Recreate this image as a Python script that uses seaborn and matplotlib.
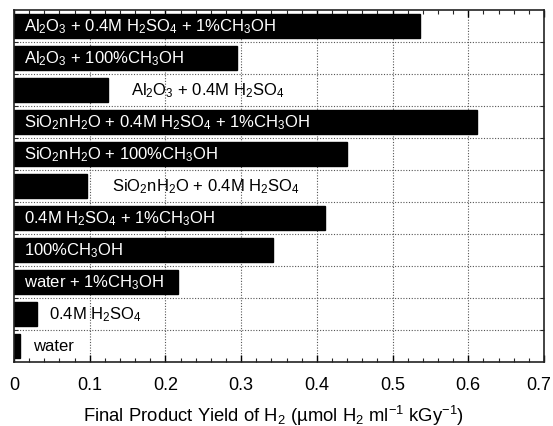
import matplotlib
matplotlib.use("Agg")
import matplotlib.pyplot as plt
import matplotlib.transforms as mtransforms
from matplotlib.ticker import FixedLocator
import seaborn as sns
import pandas as pd
import numpy as np

# H2 yields for each irradiated system (top to bottom)
systems = [
    r"Al$_2$O$_3$ + 0.4M H$_2$SO$_4$ + 1%CH$_3$OH",
    r"Al$_2$O$_3$ + 100%CH$_3$OH",
    r"Al$_2$O$_3$ + 0.4M H$_2$SO$_4$",
    r"SiO$_2$nH$_2$O + 0.4M H$_2$SO$_4$ + 1%CH$_3$OH",
    r"SiO$_2$nH$_2$O + 100%CH$_3$OH",
    r"SiO$_2$nH$_2$O + 0.4M H$_2$SO$_4$",
    r"0.4M H$_2$SO$_4$ + 1%CH$_3$OH",
    r"100%CH$_3$OH",
    r"water + 1%CH$_3$OH",
    r"0.4M H$_2$SO$_4$",
    r"water",
]
yields = [0.536, 0.295, 0.124, 0.611, 0.440, 0.096, 0.411, 0.342, 0.216, 0.030, 0.008]
# labels drawn inside the bar (white) or beside it (black)
inside = [True, True, False, True, True, False, True, True, True, False, False]
outside_offset_pt = [0, 0, 17, 0, 0, 18, 0, 0, 0, 9, 9]

x_ticks = [0.0, 0.1, 0.2, 0.3, 0.4, 0.5, 0.6, 0.7]
x_tick_labels = ["0", "0.1", "0.2", "0.3", "0.4", "0.5", "0.6", "0.7"]

sns.set_theme(style="white")
plt.rcParams["font.family"] = ["Liberation Sans", "DejaVu Sans"]
plt.rcParams["mathtext.fontset"] = "custom"
plt.rcParams["mathtext.rm"] = "Liberation Sans"
plt.rcParams["mathtext.it"] = "Liberation Sans"
plt.rcParams["mathtext.default"] = "regular"

df = pd.DataFrame({"system": systems, "yield": yields})

fig = plt.figure(figsize=(5.53, 4.27), dpi=100)
ax = fig.add_axes([14 / 553, 1 - 363 / 427, 530 / 553, 352 / 427])

sns.barplot(data=df, y="system", x="yield", order=systems, color="black",
            saturation=1, width=0.78, orient="h", ax=ax, edgecolor="black")

ax.set_xlim(0, 0.7)
ax.set_ylim(len(systems) - 0.5, -0.5)

for i, (name, val) in enumerate(zip(systems, yields)):
    if inside[i]:
        ax.annotate(name, xy=(0, i), xytext=(7, 0), textcoords="offset points",
                    color="white", fontsize=12, va="center", ha="left")
    else:
        ax.annotate(name, xy=(val, i), xytext=(outside_offset_pt[i], 0),
                    textcoords="offset points", color="black", fontsize=12,
                    va="center", ha="left")

# gridlines: dotted verticals at major ticks, dotted rules between bars
ax.set_xticks(x_ticks)
ax.set_xticklabels(x_tick_labels)
ax.xaxis.set_minor_locator(FixedLocator(np.arange(0.02, 0.7, 0.02)))
ax.yaxis.set_major_locator(FixedLocator([]))
ax.yaxis.set_minor_locator(FixedLocator(np.arange(0.5, len(systems) - 0.5, 1.0)))
ax.grid(False)
for x in x_ticks[1:-1]:
    ax.axvline(x, color="#555555", lw=0.8, ls=(0, (1, 1.5)), zorder=0)
for y in np.arange(0.5, len(systems) - 0.5, 1.0):
    ax.axhline(y, color="#555555", lw=0.8, ls=(0, (1, 1.5)), zorder=0)

ax.tick_params(axis="x", which="major", direction="in", length=5, width=1,
               top=True, bottom=True, labelsize=13, pad=10, colors="black")
ax.tick_params(axis="x", which="minor", direction="in", length=3, width=0.8,
               top=True, bottom=True)
ax.tick_params(axis="y", which="minor", direction="in", length=3, width=0.8,
               left=True, right=True)
ax.tick_params(axis="y", which="major", left=False, labelleft=False)

# keep the last tick label inside the canvas
last = ax.get_xticklabels()[-1]
last.set_transform(last.get_transform() +
                   mtransforms.ScaledTranslation(-4 / 72, 0, fig.dpi_scale_trans))

for s in ax.spines.values():
    s.set_color("#222222")
    s.set_linewidth(1.2)

ax.set_ylabel("")
ax.set_xlabel("Final Product Yield of H$_2$ (µmol H$_2$ ml$^{-1}$ kGy$^{-1}$)",
              fontsize=13.3, labelpad=5, color="black")
ax.xaxis.set_label_coords(0.49, -0.115)

fig.savefig("out.png", dpi=100)
